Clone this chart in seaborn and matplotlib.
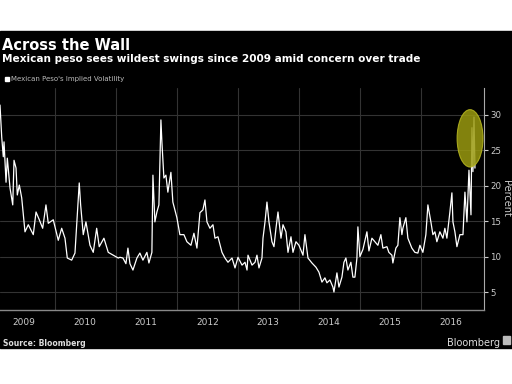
import matplotlib

matplotlib.use("Agg")
import matplotlib.dates as mdates
import matplotlib.pyplot as plt
import pandas as pd
import seaborn as sns
from matplotlib.patches import Ellipse, Rectangle

# time as decimal years, implied vol in percent
year_frac = [
    2009.098, 2009.126, 2009.152, 2009.164, 2009.197, 2009.218, 2009.262, 2009.307,
    2009.328, 2009.361, 2009.382, 2009.415, 2009.454, 2009.508, 2009.562, 2009.644,
    2009.689, 2009.743, 2009.798, 2009.852, 2009.890, 2009.972, 2010.054, 2010.110,
    2010.164, 2010.202, 2010.274, 2010.328, 2010.366, 2010.398, 2010.421, 2010.464,
    2010.508, 2010.574, 2010.628, 2010.684, 2010.726, 2010.803, 2010.874, 2010.956,
    2011.038, 2011.066, 2011.115, 2011.164, 2011.197, 2011.230, 2011.279, 2011.344,
    2011.393, 2011.443, 2011.508, 2011.541, 2011.590, 2011.607, 2011.639, 2011.672,
    2011.705, 2011.738, 2011.754, 2011.787, 2011.820, 2011.852, 2011.902, 2011.934,
    2012.000, 2012.049, 2012.115, 2012.164, 2012.230, 2012.279, 2012.328, 2012.377,
    2012.426, 2012.459, 2012.492, 2012.541, 2012.590, 2012.623, 2012.672, 2012.738,
    2012.787, 2012.836, 2012.902, 2012.951, 2013.000, 2013.066, 2013.115, 2013.148,
    2013.164, 2013.230, 2013.279, 2013.311, 2013.344, 2013.393, 2013.410, 2013.443,
    2013.475, 2013.508, 2013.557, 2013.590, 2013.623, 2013.656, 2013.705, 2013.738,
    2013.787, 2013.820, 2013.869, 2013.902, 2013.951, 2014.000, 2014.066, 2014.098,
    2014.148, 2014.213, 2014.279, 2014.328, 2014.377, 2014.426, 2014.459, 2014.508,
    2014.557, 2014.574, 2014.623, 2014.656, 2014.705, 2014.738, 2014.770, 2014.803,
    2014.852, 2014.885, 2014.918, 2014.951, 2014.967, 2015.000, 2015.049, 2015.115,
    2015.148, 2015.197, 2015.246, 2015.295, 2015.344, 2015.377, 2015.443, 2015.475,
    2015.525, 2015.541, 2015.590, 2015.623, 2015.656, 2015.689, 2015.705, 2015.754,
    2015.787, 2015.852, 2015.902, 2015.951, 2015.984, 2016.033, 2016.082, 2016.115,
    2016.164, 2016.197, 2016.230, 2016.262, 2016.311, 2016.361, 2016.393, 2016.426,
    2016.475, 2016.508, 2016.525, 2016.557, 2016.590, 2016.639, 2016.689, 2016.721,
    2016.754, 2016.787, 2016.820, 2016.836, 2016.852, 2016.869, 2016.885,
]
vol = [
    31.4, 26.9, 24.1, 26.2, 20.5, 23.9, 19.7, 17.3,
    23.6, 22.5, 18.7, 20.1, 18.3, 13.5, 14.5, 13.1,
    16.3, 15.2, 14.0, 17.3, 14.7, 15.2, 12.3, 14.0,
    12.6, 9.8, 9.5, 10.5, 15.9, 20.4, 17.3, 13.1,
    14.9, 11.6, 10.6, 14.0, 11.4, 12.6, 10.6, 10.2,
    9.8, 9.9, 9.8, 9.0, 11.2, 9.0, 8.1, 9.8,
    10.5, 9.5, 10.6, 9.1, 10.6, 21.5, 14.9, 16.3,
    17.3, 29.3, 26.2, 21.1, 21.5, 19.1, 21.9, 17.7,
    15.5, 13.1, 13.1, 12.1, 11.6, 13.3, 11.2, 16.2,
    16.6, 18.0, 14.9, 14.0, 14.5, 12.6, 12.8, 10.6,
    9.8, 9.2, 9.8, 8.4, 9.9, 8.8, 9.2, 8.1,
    10.2, 8.8, 9.2, 10.2, 8.4, 9.8, 12.6, 14.9,
    17.7, 14.9, 12.1, 11.4, 14.0, 16.3, 12.6, 14.5,
    13.5, 10.6, 12.8, 10.6, 12.1, 11.6, 10.2, 13.1,
    9.8, 9.1, 8.5, 7.8, 6.4, 7.0, 6.3, 6.7,
    5.7, 5.0, 7.7, 5.7, 7.1, 9.2, 9.8, 8.1,
    9.2, 7.1, 7.1, 9.8, 14.2, 10.0, 11.0, 13.5,
    10.8, 12.6, 12.1, 11.6, 13.1, 11.2, 11.4, 10.6,
    10.2, 9.1, 11.2, 11.6, 15.5, 13.1, 14.0, 15.5,
    12.6, 11.2, 10.6, 10.5, 11.6, 10.6, 13.1, 17.3,
    14.9, 13.1, 13.5, 12.1, 13.5, 12.6, 14.0, 12.6,
    16.3, 19.0, 14.9, 13.5, 11.4, 13.1, 13.1, 19.1,
    14.9, 22.2, 15.9, 28.2, 22.0, 29.7, 22.5,
]

years = list(range(2009, 2017))
y_ticks = [5, 10, 15, 20, 25, 30]


def to_date(t):
    y = int(t)
    start = pd.Timestamp(year=y, month=1, day=1)
    length = pd.Timestamp(year=y + 1, month=1, day=1) - start
    return start + (t - y) * length


df = pd.DataFrame({"date": [to_date(t) for t in year_frac], "vol": vol})

sns.set_style("dark")
plt.rcParams["font.family"] = ["DejaVu Sans"]

fig = plt.figure(figsize=(5.12, 3.84), dpi=100, facecolor="white")
fig.patches.append(
    Rectangle((0, 0.094), 1, 0.826, transform=fig.transFigure, color="black", zorder=-10)
)
ax = fig.add_axes([0.0, 0.1927, 0.9453, 0.578])
ax.set_facecolor("black")

sns.lineplot(data=df, x="date", y="vol", ax=ax, color="white", linewidth=0.9)

# highlight of the latest spike
cx = mdates.date2num(to_date(2016.805))
ax.add_patch(
    Ellipse((cx, 26.7), width=155, height=8.1, facecolor="#9a9a10",
            edgecolor="#b8b820", alpha=0.85, linewidth=0.8, zorder=5)
)

ax.set_xlim(to_date(2009.098), to_date(2017.033))
ax.set_ylim(2.46, 33.8)

ax.set_yticks(y_ticks)
ax.yaxis.tick_right()
ax.tick_params(axis="y", colors="#cccccc", labelsize=6.2, length=3, width=0.8,
               direction="out", pad=1.5)
ax.set_ylabel("")

ax.set_xticks([pd.Timestamp(year=y + 1, month=1, day=1) for y in years[:-1]])
ax.set_xticklabels([])
ax.set_xticks([pd.Timestamp(year=y, month=7, day=1) for y in years], minor=True)
ax.set_xticklabels([str(y) for y in years], minor=True)
ax.tick_params(axis="x", which="major", colors="#555555", length=18, width=0.8)
ax.tick_params(axis="x", which="minor", colors="#cccccc", labelsize=6.5, length=0, pad=6)
ax.set_xlabel("")

ax.grid(True, which="major", color="#333333", linewidth=0.8)
for side in ["top", "left"]:
    ax.spines[side].set_visible(False)
ax.spines["bottom"].set_color("#888888")
ax.spines["right"].set_color("#aaaaaa")
ax.spines["bottom"].set_linewidth(1.0)
ax.spines["right"].set_linewidth(0.8)

fig.text(0.989, 0.484, "Percent", color="#cccccc", fontsize=7, rotation=270,
         ha="center", va="center")

fig.text(0.004, 0.87, "Across the Wall", color="white", fontsize=10.5, fontweight="bold")
fig.text(0.004, 0.838, "Mexican peso sees wildest swings since 2009 amid concern over trade",
         color="white", fontsize=7.6, fontweight="bold")
fig.patches.append(
    Rectangle((0.010, 0.789), 0.008, 0.011, transform=fig.transFigure, color="white")
)
fig.text(0.021, 0.788, "Mexican Peso's Implied Volatility", color="#bbbbbb", fontsize=5)

fig.text(0.006, 0.100, "Source: Bloomberg", color="#dddddd", fontsize=5.5, fontweight="bold")
fig.text(0.976, 0.100, "Bloomberg", color="#dddddd", fontsize=7, ha="right")
fig.patches.append(
    Rectangle((0.982, 0.103), 0.014, 0.022, transform=fig.transFigure, color="#bbbbbb")
)

fig.savefig("out.png", dpi=100, facecolor=fig.get_facecolor())
